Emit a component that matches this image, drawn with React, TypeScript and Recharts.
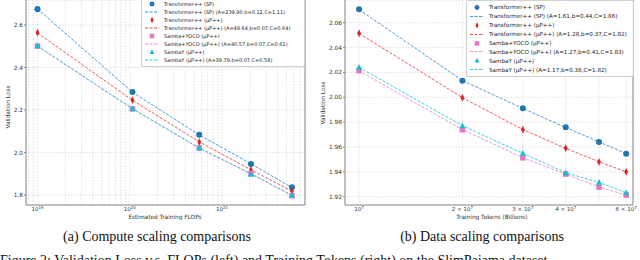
import { CartesianGrid, ComposedChart, Line, XAxis, YAxis } from "recharts";

// left panel: loss vs estimated training FLOPs
const flops = [1.0e19, 1.07e20, 5.66e20, 2.06e21, 5.73e21];
const computeSP = [2.675, 2.285, 2.084, 1.946, 1.836];
const computeSPFit = [2.676, 2.284, 2.083, 1.947, 1.835];
const computeMu = [2.564, 2.247, 2.049, 1.918, 1.819];
const computeMuFit = [2.563, 2.246, 2.05, 1.919, 1.818];
const computeYoco = [2.501, 2.205, 2.021, 1.902, 1.797];
const computeYocoFit = [2.5, 2.206, 2.021, 1.901, 1.798];
const computeSambaY = [2.503, 2.207, 2.022, 1.898, 1.8];
const computeSambaYFit = [2.502, 2.206, 2.021, 1.899, 1.799];

// right panel: loss vs training tokens
const tokens = [1e7, 2e7, 3e7, 4e7, 5e7, 6e7];
const dataSP = [2.0708, 2.0133, 1.9911, 1.9758, 1.964, 1.9546];
const dataSPFit = [2.0706, 2.0135, 1.991, 1.9757, 1.9641, 1.9547];
const dataMu = [2.0515, 1.9996, 1.9739, 1.959, 1.948, 1.94];
const dataMuFit = [2.0514, 1.9997, 1.974, 1.9589, 1.9481, 1.9399];
const dataYoco = [2.0214, 1.9739, 1.9513, 1.9382, 1.9277, 1.9213];
const dataYocoFit = [2.0213, 1.974, 1.9514, 1.9381, 1.9278, 1.9212];
const dataSambaY = [2.0241, 1.977, 1.955, 1.9392, 1.9315, 1.9232];
const dataSambaYFit = [2.024, 1.9771, 1.9549, 1.9393, 1.9314, 1.9233];

const seriesNames = [
  "Transformer++ (SP)",
  "Transformer++ (μP++)",
  "Samba+YOCO (μP++)",
  "SambaY (μP++)",
];
const computeFitParams = [
  "(A=239.90,b=0.12,C=1.11)",
  "(A=49.64,b=0.07,C=0.64)",
  "(A=40.57,b=0.07,C=0.61)",
  "(A=39.79,b=0.07,C=0.58)",
];
const dataFitParams = [
  "(A=1.61,b=0.44,C=1.86)",
  "(A=1.28,b=0.37,C=1.82)",
  "(A=1.27,b=0.41,C=1.83)",
  "(A=1.17,b=0.38,C=1.82)",
];

const computeYTicks = [1.8, 2.0, 2.2, 2.4, 2.6];
const computeMajorX = [1e19, 1e20, 1e21];
const dataYTicks = [1.92, 1.94, 1.96, 1.98, 2.0, 2.02, 2.04, 2.06];
const dataXTicks = [1e7, 2e7, 3e7, 4e7, 5e7, 6e7];
const dataXMantissa = ["", "2 × ", "3 × ", "4 × ", null, "6 × "];

// minor log ticks (grid only) for the FLOPs axis
const computeXTicks = [1e18, 1e19, 1e20, 1e21]
  .flatMap((d) => [1, 2, 3, 4, 5, 6, 7, 8, 9].map((m) => m * d))
  .filter((v) => v >= 7.5e18 && v <= 7.9e21);

const styles = [
  { color: "#1f77b4", fit: "#3d8fd6", shape: "circle" },
  { color: "#d62728", fit: "#ee4a4a", shape: "thin" },
  { color: "#e377c2", fit: "#ef8ad2", shape: "square" },
  { color: "#17becf", fit: "#2cc6dc", shape: "triangle" },
];
const keys = ["sp", "mu", "yoco", "sy"];

const computeRows = flops.map((x, i) => ({
  x,
  sp: computeSP[i],
  spFit: computeSPFit[i],
  mu: computeMu[i],
  muFit: computeMuFit[i],
  yoco: computeYoco[i],
  yocoFit: computeYocoFit[i],
  sy: computeSambaY[i],
  syFit: computeSambaYFit[i],
}));

const dataRows = tokens.map((x, i) => ({
  x,
  sp: dataSP[i],
  spFit: dataSPFit[i],
  mu: dataMu[i],
  muFit: dataMuFit[i],
  yoco: dataYoco[i],
  yocoFit: dataYocoFit[i],
  sy: dataSambaY[i],
  syFit: dataSambaYFit[i],
}));

const FONT = "'DejaVu Sans', sans-serif";

function marker(shape: string, cx: number, cy: number, s: number, color: string, key?: number) {
  if (shape === "circle") return <circle key={key} cx={cx} cy={cy} r={s * 0.55} fill={color} />;
  if (shape === "square")
    return <rect key={key} x={cx - s / 2} y={cy - s / 2} width={s} height={s} fill={color} />;
  if (shape === "triangle")
    return (
      <polygon
        key={key}
        points={`${cx},${cy - s * 0.6} ${cx - s * 0.55},${cy + s * 0.45} ${cx + s * 0.55},${cy + s * 0.45}`}
        fill={color}
      />
    );
  return (
    <polygon
      key={key}
      points={`${cx},${cy - s * 0.7} ${cx + s * 0.35},${cy} ${cx},${cy + s * 0.7} ${cx - s * 0.35},${cy}`}
      fill={color}
    />
  );
}

const dotRenderer = (shape: string, color: string, s: number) => (p: any) => {
  if (p.cx == null || p.cy == null) return <g key={p.index} />;
  return marker(shape, p.cx, p.cy, s, color, p.index);
};

function FlopsTick({ x, payload }: any) {
  if (!computeMajorX.includes(payload.value)) return <g />;
  const exp = Math.round(Math.log10(payload.value));
  return (
    <text x={x} y={211} textAnchor="middle" fontSize={5.5} fill="#333" fontFamily={FONT}>
      <tspan>10</tspan>
      <tspan dy={-2.5} fontSize={4}>
        {exp}
      </tspan>
    </text>
  );
}

function TokensTick({ x, payload }: any) {
  const idx = dataXTicks.indexOf(payload.value);
  const m = dataXMantissa[idx];
  if (m == null) return <g />;
  return (
    <text x={x} y={211} textAnchor="middle" fontSize={5.5} fill="#333" fontFamily={FONT}>
      <tspan>{m}10</tspan>
      <tspan dy={-2.5} fontSize={4}>
        7
      </tspan>
    </text>
  );
}

function Legend({
  left,
  top,
  width,
  rowH,
  fontSize,
  params,
}: {
  left: number;
  top: number;
  width: number;
  rowH: number;
  fontSize: number;
  params: string[];
}) {
  const rows = seriesNames.flatMap((name, i) => [
    { kind: "marker", label: name, st: styles[i] },
    { kind: "line", label: `${name} ${params[i]}`, st: styles[i] },
  ]);
  return (
    <div
      style={{
        position: "absolute",
        left,
        top,
        width,
        padding: "2px 0 2px 2px",
        border: "1px solid #d0d0d0",
        borderRadius: 2,
        background: "rgba(255,255,255,0.85)",
        fontFamily: FONT,
        fontSize,
        color: "#222",
      }}
    >
      {rows.map((r, i) => (
        <div key={i} style={{ display: "flex", alignItems: "center", height: rowH, whiteSpace: "nowrap" }}>
          <svg width={16} height={rowH} style={{ flex: "none", marginRight: 4 }}>
            {r.kind === "line" ? (
              <line
                x1={1}
                x2={15}
                y1={rowH / 2}
                y2={rowH / 2}
                stroke={r.st.fit}
                strokeWidth={1}
                strokeDasharray="3 1.5"
              />
            ) : (
              marker(r.st.shape, 8, rowH / 2, 4.5, r.st.color)
            )}
          </svg>
          <span>{r.label}</span>
        </div>
      ))}
    </div>
  );
}

function Panel({
  rows,
  xDomain,
  xTicks,
  tick,
  yDomain,
  yTicks,
  digits,
  leftW,
  rightW,
  markerSize,
}: any) {
  return (
    <ComposedChart width={320} height={225} data={rows} margin={{ top: 0, right: 0, bottom: 0, left: 0 }}>
      <CartesianGrid stroke="#cfcfcf" strokeWidth={0.6} strokeDasharray="1.5 1.5" />
      <XAxis
        dataKey="x"
        type="number"
        scale="log"
        domain={xDomain}
        allowDataOverflow
        ticks={xTicks}
        interval={0}
        height={20}
        tick={tick}
        tickLine={false}
        axisLine={{ stroke: "#888", strokeWidth: 1 }}
      />
      <YAxis
        type="number"
        domain={yDomain}
        allowDataOverflow
        ticks={yTicks}
        interval={0}
        width={leftW}
        tickSize={2}
        tickMargin={1}
        tickFormatter={(v: number) => v.toFixed(digits)}
        tick={{ fontSize: 5.8, fill: "#333", fontFamily: FONT }}
        tickLine={{ stroke: "#888" }}
        axisLine={{ stroke: "#888", strokeWidth: 1 }}
      />
      <YAxis
        yAxisId="frame"
        orientation="right"
        width={rightW}
        tick={false}
        tickLine={false}
        axisLine={{ stroke: "#888", strokeWidth: 1 }}
      />
      {keys.map((k, i) => (
        <Line
          key={k + "fit"}
          dataKey={k + "Fit"}
          stroke={styles[i].fit}
          strokeWidth={0.9}
          strokeDasharray="3 1.5"
          dot={false}
          activeDot={false}
          isAnimationActive={false}
        />
      ))}
      {keys.map((k, i) => (
        <Line
          key={k}
          dataKey={k}
          stroke="none"
          dot={dotRenderer(styles[i].shape, styles[i].color, markerSize)}
          activeDot={false}
          isAnimationActive={false}
        />
      ))}
    </ComposedChart>
  );
}

const axisTitle = { position: "absolute" as const, fontFamily: FONT, fontSize: 5.8, color: "#333", whiteSpace: "nowrap" as const };

const caption = {
  position: "absolute" as const,
  fontFamily: "'Liberation Serif', serif",
  fontSize: 14,
  lineHeight: "16px",
  whiteSpace: "nowrap" as const,
  color: "#111",
};

export default function App() {
  return (
    <div
      style={{
        position: "absolute",
        left: 0,
        top: 0,
        width: 640,
        height: 260,
        overflow: "hidden",
        background: "#fff",
      }}
    >
      <div style={{ position: "absolute", left: 0, top: 0 }}>
        <Panel
          rows={computeRows}
          xDomain={[7.5e18, 7.93e21]}
          xTicks={computeXTicks}
          tick={<FlopsTick />}
          yDomain={[1.753, 2.718]}
          yTicks={computeYTicks}
          digits={1}
          leftW={26}
          rightW={15}
          markerSize={5.5}
        />
      </div>
      <div style={{ position: "absolute", left: 320, top: 0 }}>
        <Panel
          rows={dataRows}
          xDomain={[9.1e6, 6.28e7]}
          xTicks={dataXTicks}
          tick={<TokensTick />}
          yDomain={[1.9133, 2.0783]}
          yTicks={dataYTicks}
          digits={2}
          leftW={25}
          rightW={7}
          markerSize={5.5}
        />
      </div>

      <Legend left={141} top={-3} width={160} rowH={8} fontSize={5} params={computeFitParams} />
      <Legend left={466} top={0} width={164} rowH={8.9} fontSize={5.6} params={dataFitParams} />

      <div style={{ ...axisTitle, left: 8, top: 107, transform: "translate(-50%,-50%) rotate(-90deg)" }}>
        Validation Loss
      </div>
      <div style={{ ...axisTitle, left: 323, top: 103, transform: "translate(-50%,-50%) rotate(-90deg)" }}>
        Validation Loss
      </div>
      <div style={{ ...axisTitle, left: 165, top: 217, transform: "translate(-50%,-50%)" }}>
        Estimated Training FLOPs
      </div>
      <div style={{ ...axisTitle, left: 492, top: 217, transform: "translate(-50%,-50%)" }}>
        Training Tokens (Billions)
      </div>

      <div style={{ ...caption, left: 157, top: 237, transform: "translate(-50%,-50%)" }}>
        (a) Compute scaling comparisons
      </div>
      <div style={{ ...caption, left: 482, top: 237, transform: "translate(-50%,-50%)" }}>
        (b) Data scaling comparisons
      </div>
      <div style={{ ...caption, left: 0, top: 253 }}>
        Figure 2: Validation Loss v.s. FLOPs (left) and Training Tokens (right) on the SlimPajama dataset.
      </div>
    </div>
  );
}
